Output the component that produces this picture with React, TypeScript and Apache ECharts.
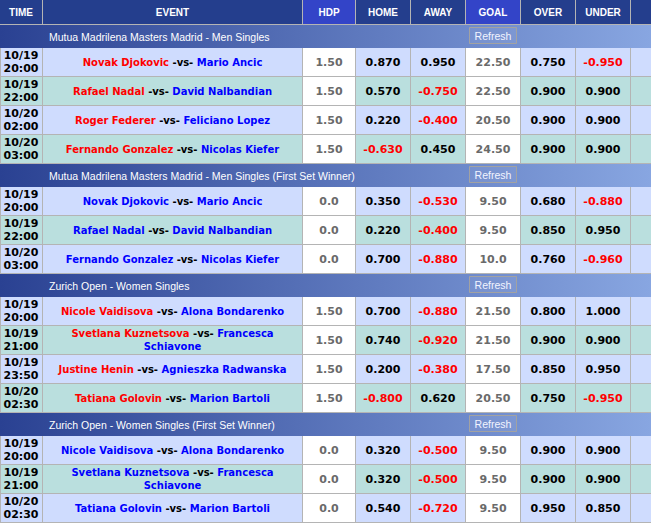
import React, { useEffect, useRef } from "react";
import * as echarts from "echarts";

// ---- data ----
const columnHeaders = ["TIME", "EVENT", "HDP", "HOME", "AWAY", "GOAL", "OVER", "UNDER", ""];
const sectionTitles = [
  "Mutua Madrilena Masters Madrid - Men Singles",
  "Mutua Madrilena Masters Madrid - Men Singles (First Set Winner)",
  "Zurich Open - Women Singles",
  "Zurich Open - Women Singles (First Set Winner)",
];
const sectionHomeHighlighted = [true, false, true, false];
const matchSection = [0, 0, 0, 0, 1, 1, 1, 2, 2, 2, 2, 3, 3, 3];
const matchDates = ["10/19", "10/19", "10/20", "10/20", "10/19", "10/19", "10/20", "10/19", "10/19", "10/19", "10/20", "10/19", "10/19", "10/20"];
const matchTimes = ["20:00", "22:00", "02:00", "03:00", "20:00", "22:00", "03:00", "20:00", "21:00", "23:50", "02:30", "20:00", "21:00", "02:30"];
const homePlayers = [
  "Novak Djokovic", "Rafael Nadal", "Roger Federer", "Fernando Gonzalez",
  "Novak Djokovic", "Rafael Nadal", "Fernando Gonzalez",
  "Nicole Vaidisova", "Svetlana Kuznetsova", "Justine Henin", "Tatiana Golovin",
  "Nicole Vaidisova", "Svetlana Kuznetsova", "Tatiana Golovin",
];
const awayPlayers = [
  "Mario Ancic", "David Nalbandian", "Feliciano Lopez", "Nicolas Kiefer",
  "Mario Ancic", "David Nalbandian", "Nicolas Kiefer",
  "Alona Bondarenko", "Francesca Schiavone", "Agnieszka Radwanska", "Marion Bartoli",
  "Alona Bondarenko", "Francesca Schiavone", "Marion Bartoli",
];
const hdpValues = ["1.50", "1.50", "1.50", "1.50", "0.0", "0.0", "0.0", "1.50", "1.50", "1.50", "1.50", "0.0", "0.0", "0.0"];
const homeOdds = [0.87, 0.57, 0.22, -0.63, 0.35, 0.22, 0.7, 0.7, 0.74, 0.2, -0.8, 0.32, 0.32, 0.54];
const awayOdds = [0.95, -0.75, -0.4, 0.45, -0.53, -0.4, -0.88, -0.88, -0.92, -0.38, 0.62, -0.5, -0.5, -0.72];
const goalValues = ["22.50", "22.50", "20.50", "24.50", "9.50", "9.50", "10.0", "21.50", "21.50", "17.50", "20.50", "9.50", "9.50", "9.50"];
const overOdds = [0.75, 0.9, 0.9, 0.9, 0.68, 0.85, 0.76, 0.8, 0.9, 0.85, 0.75, 0.9, 0.9, 0.95];
const underOdds = [-0.95, 0.9, 0.9, 0.9, -0.88, 0.95, -0.96, 1.0, 0.9, 0.95, -0.95, 0.9, 0.9, 0.85];

// ---- layout / style ----
const W = 651;
const H = 524;
const EDGES = [0, 43, 303, 356, 411, 466, 521, 576, 631, 651];
const HEADER_H = 25;
const SECTION_H = 23;
const ROW_H = 29;
const C = {
  headDark: "#243e8d",
  headBright: "#3344c8",
  border: "#b4b4b4",
  rowBlue: "#cfdcfe",
  rowTeal: "#badfde",
  white: "#ffffff",
  gradL: "#2a4192",
  gradR: "#88a6e1",
  red: "#ff0000",
  blue: "#0000ff",
  gray: "#6a6a6a",
};
const NUM_FONT = "DejaVu Sans";
const EVT_FONT = "DejaVu Sans";
const HEAD_FONT = "Liberation Sans";

type Row = { kind: "header" | "section" | "match"; y0: number; y1: number; idx: number; alt: number };

function buildLayout(): Row[] {
  const rows: Row[] = [];
  let y = 0;
  rows.push({ kind: "header", y0: y, y1: y + HEADER_H, idx: -1, alt: 0 });
  y += HEADER_H;
  sectionTitles.forEach((_, s) => {
    rows.push({ kind: "section", y0: y, y1: y + SECTION_H, idx: s, alt: 0 });
    y += SECTION_H;
    let alt = 0;
    matchSection.forEach((ms, m) => {
      if (ms !== s) return;
      rows.push({ kind: "match", y0: y, y1: y + ROW_H, idx: m, alt: alt++ });
      y += ROW_H;
    });
  });
  return rows;
}

let measureCtx: CanvasRenderingContext2D | null = null;
function measure(text: string, font: string): number {
  if (!measureCtx) measureCtx = document.createElement("canvas").getContext("2d");
  if (!measureCtx) return text.length * 6;
  measureCtx.font = font;
  return measureCtx.measureText(text).width;
}

const fmt = (v: number) => v.toFixed(3);

export default function App() {
  const ref = useRef<HTMLDivElement>(null);
  useEffect(() => {
    document.body.style.margin = "0";
    const chart = echarts.init(ref.current!, undefined, { renderer: "svg" });
    const layout = buildLayout();
    const evtFontStr = `bold 10px '${EVT_FONT}'`;

    const renderItem = (params: any, api: any) => {
      const row = layout[params.dataIndex];
      const P = (x: number, y: number) => api.coord([x, y]);
      const rect = (x0: number, y0: number, x1: number, y1: number, fill: any, extra: any = {}) => {
        const a = P(x0, y0);
        const b = P(x1, y1);
        return {
          type: "rect",
          shape: { x: a[0], y: a[1], width: b[0] - a[0], height: b[1] - a[1] },
          style: { fill, ...extra },
        };
      };
      const text = (x: number, y: number, t: string, style: any) => {
        const a = P(x, y);
        return { type: "text", style: { x: a[0], y: a[1], text: t, ...style } };
      };
      const center = (c: number) => (EDGES[c] + EDGES[c + 1] - 1) / 2;
      const children: any[] = [];
      const mid = (row.y0 + row.y1 - 1) / 2;

      if (row.kind === "header") {
        children.push(rect(0, row.y0, W, row.y1, C.border));
        for (let c = 0; c < EDGES.length - 1; c++) {
          const fill = c === 2 || c === 5 ? C.headBright : C.headDark;
          const x1 = c === EDGES.length - 2 ? EDGES[c + 1] : EDGES[c + 1] - 1;
          children.push(rect(EDGES[c], row.y0, x1, row.y1 - 1, fill));
          if (columnHeaders[c]) {
            children.push(
              text(center(c), mid, columnHeaders[c], {
                fill: "#ffffff",
                font: `bold 10px '${HEAD_FONT}'`,
                align: "center",
                verticalAlign: "middle",
              })
            );
          }
        }
      } else if (row.kind === "section") {
        const grad = new echarts.graphic.LinearGradient(0, 0, 1, 0, [
          { offset: 0, color: C.gradL },
          { offset: 1, color: C.gradR },
        ]);
        children.push(rect(0, row.y0, W, row.y1, grad));
        children.push(
          text(49, mid + 0.5, sectionTitles[row.idx], {
            fill: "#ffffff",
            font: `10.5px '${HEAD_FONT}'`,
            align: "left",
            verticalAlign: "middle",
          })
        );
        const b0 = P(469.5, row.y0 + 2.5);
        const b1 = P(516.5, row.y0 + 18.5);
        children.push({
          type: "rect",
          shape: { x: b0[0], y: b0[1], width: b1[0] - b0[0], height: b1[1] - b0[1] },
          style: { fill: "rgba(255,255,255,0.06)", stroke: "#a2a2a2", lineWidth: 1 },
        });
        children.push(
          text(493, row.y0 + 11, "Refresh", {
            fill: "#f2f4ff",
            font: `10.5px '${HEAD_FONT}'`,
            align: "center",
            verticalAlign: "middle",
          })
        );
      } else {
        const m = row.idx;
        const rowFill = row.alt % 2 === 0 ? C.rowBlue : C.rowTeal;
        children.push(rect(0, row.y0, W, row.y1, C.border));
        for (let c = 0; c < EDGES.length - 1; c++) {
          const fill = c === 2 || c === 5 ? C.white : rowFill;
          const x0 = c === 0 ? 1 : EDGES[c];
          const x1 = c === EDGES.length - 2 ? EDGES[c + 1] : EDGES[c + 1] - 1;
          children.push(rect(x0, row.y0, x1, row.y1 - 1, fill));
        }
        // time
        children.push(
          text(center(0), mid, `${matchDates[m]}\n${matchTimes[m]}`, {
            fill: "#000000",
            font: `bold 11px '${NUM_FONT}'`,
            lineHeight: 13,
            align: "center",
            verticalAlign: "middle",
          })
        );
        // event
        const hl = sectionHomeHighlighted[matchSection[m]];
        const home = homePlayers[m];
        const away = awayPlayers[m];
        const full = `${home} -vs- ${away}`;
        let awayText = `{a| ${away}}`;
        if (measure(full, evtFontStr) > EDGES[2] - EDGES[1] - 12) {
          const words = away.split(" ");
          const last = words.pop();
          awayText = `{a| ${words.join(" ")}}\n{a|${last}}`;
        }
        const tokenStyle = (fill: string) => ({
          fill,
          fontFamily: EVT_FONT,
          fontWeight: "bold",
          fontSize: 10,
          lineHeight: 13,
        });
        children.push(
          text(center(1), mid, `{h|${home} }{v|-vs-}${awayText}`, {
            align: "center",
            verticalAlign: "middle",
            rich: {
              h: tokenStyle(hl ? C.red : C.blue),
              v: tokenStyle("#000000"),
              a: tokenStyle(C.blue),
            },
          })
        );
        const plain = (c: number, t: string) =>
          children.push(
            text(center(c), mid, t, {
              fill: C.gray,
              font: `bold 11px '${NUM_FONT}'`,
              align: "center",
              verticalAlign: "middle",
            })
          );
        const odd = (c: number, v: number) =>
          children.push(
            text(center(c), mid, fmt(v), {
              fill: v < 0 ? C.red : "#000000",
              font: `bold 11px '${NUM_FONT}'`,
              align: "center",
              verticalAlign: "middle",
            })
          );
        plain(2, hdpValues[m]);
        odd(3, homeOdds[m]);
        odd(4, awayOdds[m]);
        plain(5, goalValues[m]);
        odd(6, overOdds[m]);
        odd(7, underOdds[m]);
      }
      return { type: "group", children };
    };

    chart.setOption({
      animation: false,
      backgroundColor: "#ffffff",
      grid: { left: 0, right: 0, top: 0, bottom: 0 },
      xAxis: { type: "value", min: 0, max: W, show: false },
      yAxis: { type: "value", min: 0, max: H, inverse: true, show: false },
      tooltip: { show: false },
      series: [
        {
          type: "custom",
          silent: true,
          clip: false,
          renderItem,
          data: layout.map((r) => [0, r.y0]),
        },
      ],
    });
    return () => chart.dispose();
  }, []);
  return <div ref={ref} style={{ width: W, height: H }} />;
}
